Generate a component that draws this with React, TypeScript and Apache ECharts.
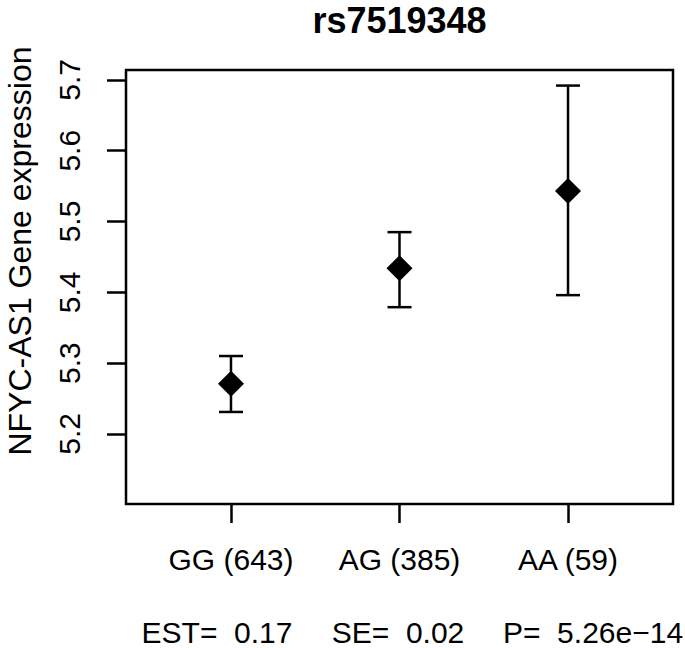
import React, { useEffect, useRef } from "react";
import * as echarts from "echarts";

const chartTitle = "rs7519348";
const yAxisName = "NFYC-AS1 Gene expression";
const categories = ["GG (643)", "AG (385)", "AA (59)"];
const positions = [1, 2, 3];
const means = [5.271, 5.434, 5.543];
const lowers = [5.231, 5.379, 5.396];
const uppers = [5.31, 5.485, 5.692];
const yTicks = [5.2, 5.3, 5.4, 5.5, 5.6, 5.7];
const statsLabels = ["EST=  0.17", "SE=  0.02", "P=  5.26e\u221214"];
const statsCenters = [217, 398, 593];

export default function App() {
  const ref = useRef<HTMLDivElement>(null);
  useEffect(() => {
    const chart = echarts.init(ref.current!, null, { renderer: "svg" });
    const font = "'Liberation Sans', Arial, Helvetica, sans-serif";
    chart.setOption({
      animation: false,
      backgroundColor: "#ffffff",
      textStyle: { fontFamily: font, color: "#000" },
      grid: {
        left: 126,
        right: 12,
        top: 70,
        bottom: 144,
        show: true,
        borderColor: "#000",
        borderWidth: 2.5,
        backgroundColor: "transparent",
        containLabel: false,
        outerBoundsMode: "none",
      },
      xAxis: {
        type: "value",
        min: 0.377,
        max: 3.623,
        splitLine: { show: false },
        axisLine: { show: false },
        axisTick: {
          show: true,
          customValues: positions,
          length: 19,
          lineStyle: { color: "#000", width: 2.5 },
        },
        axisLabel: {
          customValues: positions,
          formatter: (v: number) => categories[positions.indexOf(v)] ?? "",
          fontSize: 30,
          fontFamily: font,
          color: "#000",
          margin: 40,
        },
      },
      yAxis: {
        type: "value",
        min: 5.101,
        max: 5.714,
        splitLine: { show: false },
        axisLine: { show: false },
        axisTick: {
          show: true,
          customValues: yTicks,
          length: 19,
          lineStyle: { color: "#000", width: 2.5 },
        },
        axisLabel: {
          customValues: yTicks,
          rotate: 90,
          formatter: (v: number) => v.toFixed(1),
          fontSize: 30,
          fontFamily: font,
          color: "#000",
          margin: 42,
        },
      },
      graphic: [
        {
          type: "text",
          x: 399.5,
          y: 20,
          style: {
            text: chartTitle,
            font: `bold 36px ${font}`,
            fill: "#000",
            textAlign: "center",
            textVerticalAlign: "middle",
          },
        },
        {
          type: "text",
          x: 20,
          y: 251,
          rotation: Math.PI / 2,
          style: {
            text: yAxisName,
            font: `32px ${font}`,
            fill: "#000",
            textAlign: "center",
            textVerticalAlign: "middle",
          },
        },
        ...statsLabels.map((t, i) => ({
          type: "text",
          x: statsCenters[i],
          y: 632,
          style: {
            text: t,
            font: `30px ${font}`,
            fill: "#000",
            textAlign: "center",
            textVerticalAlign: "middle",
          },
        })),
      ],
      series: [
        {
          type: "custom",
          data: positions.map((p, i) => [p, lowers[i], uppers[i]]),
          encode: { x: 0, y: [1, 2] },
          z: 2,
          renderItem: (params: any, api: any) => {
            const x = api.value(0);
            const lo = api.coord([x, api.value(1)]);
            const hi = api.coord([x, api.value(2)]);
            const hw = 12;
            const st = { stroke: "#000", lineWidth: 2.5 };
            return {
              type: "group",
              children: [
                { type: "line", shape: { x1: lo[0], y1: lo[1], x2: hi[0], y2: hi[1] }, style: st },
                { type: "line", shape: { x1: lo[0] - hw, y1: lo[1], x2: lo[0] + hw, y2: lo[1] }, style: st },
                { type: "line", shape: { x1: hi[0] - hw, y1: hi[1], x2: hi[0] + hw, y2: hi[1] }, style: st },
              ],
            };
          },
        },
        {
          type: "scatter",
          data: positions.map((p, i) => [p, means[i]]),
          symbol: "diamond",
          symbolSize: [26, 26],
          itemStyle: { color: "#000", opacity: 1 },
          z: 3,
        },
      ],
    });
    return () => chart.dispose();
  }, []);
  return (
    <div
      ref={ref}
      style={{ position: "absolute", left: 0, top: 0, width: 685, height: 648 }}
    />
  );
}
